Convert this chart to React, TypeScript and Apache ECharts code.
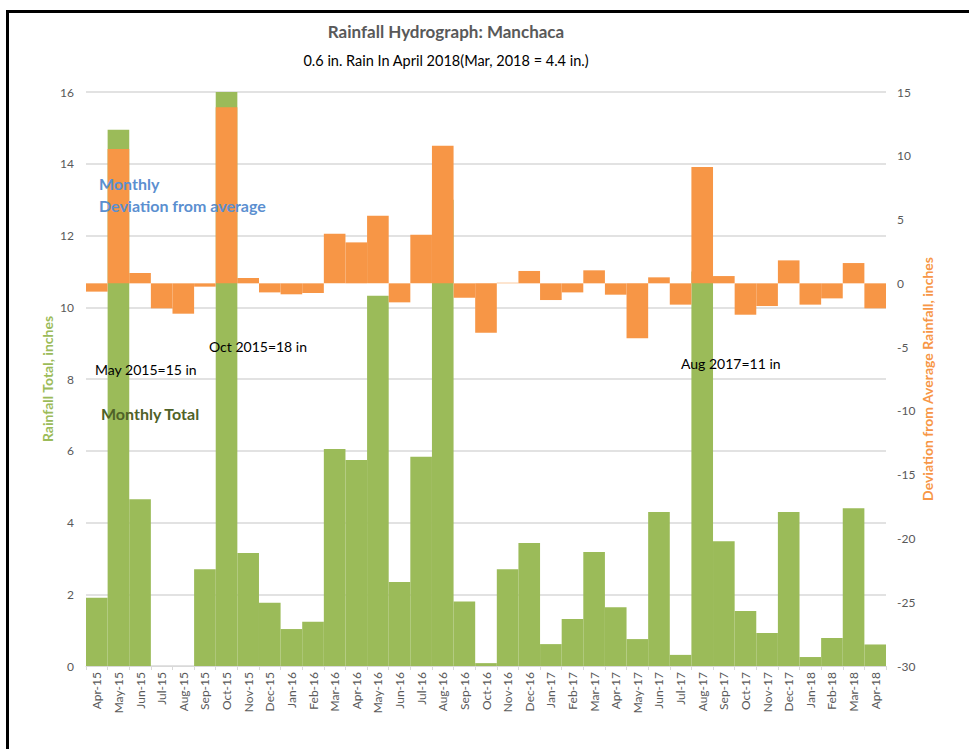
import React, { useEffect, useRef } from "react";
import * as echarts from "echarts";

const months: string[] = [
  "Apr-15", "May-15", "Jun-15", "Jul-15", "Aug-15", "Sep-15", "Oct-15", "Nov-15", "Dec-15",
  "Jan-16", "Feb-16", "Mar-16", "Apr-16", "May-16", "Jun-16", "Jul-16", "Aug-16", "Sep-16",
  "Oct-16", "Nov-16", "Dec-16", "Jan-17", "Feb-17", "Mar-17", "Apr-17", "May-17", "Jun-17",
  "Jul-17", "Aug-17", "Sep-17", "Oct-17", "Nov-17", "Dec-17", "Jan-18", "Feb-18", "Mar-18", "Apr-18",
];

const monthlyTotal: number[] = [
  1.9, 14.95, 4.65, 0, 0, 2.7, 18, 3.15, 1.76,
  1.03, 1.23, 6.05, 5.74, 10.32, 2.34, 5.83, 13, 1.8,
  0.08, 2.7, 3.43, 0.61, 1.31, 3.18, 1.64, 0.75, 4.29,
  0.31, 11, 3.48, 1.53, 0.92, 4.29, 0.25, 0.78, 4.4, 0.6,
];

const deviation: number[] = [
  -0.65, 10.53, 0.81, -1.96, -2.38, -0.26, 13.8, 0.42, -0.71,
  -0.86, -0.76, 3.89, 3.21, 5.3, -1.49, 3.81, 10.79, -1.13,
  -3.87, 0.05, 0.97, -1.31, -0.71, 1.02, -0.89, -4.31, 0.47,
  -1.67, 9.12, 0.57, -2.46, -1.78, 1.8, -1.67, -1.18, 1.59, -1.96,
];

const FONT = "Lato, 'Noto Sans', sans-serif";
const GREEN = "#9BBB59";
const ORANGE = "#F79646";

export default function App() {
  const ref = useRef<HTMLDivElement>(null);
  useEffect(() => {
    if (!ref.current) return;
    const chart = echarts.init(ref.current, undefined, { renderer: "svg" });
    const annot = (text: string, x: number, y: number, color: string, size: number, weight: string) => ({
      type: "text",
      left: x,
      top: y,
      style: { text, fill: color, font: `${weight} ${size}px ${FONT}` },
      z: 100,
    });
    chart.setOption({
      animation: false,
      backgroundColor: "#ffffff",
      title: [
        {
          text: "Rainfall Hydrograph: Manchaca",
          left: 441,
          textAlign: "center",
          top: 18,
          textStyle: { fontFamily: FONT, fontSize: 17, fontWeight: "bold", color: "#595959" },
        },
        {
          text: "0.6 in. Rain In April 2018(Mar, 2018 = 4.4 in.)",
          left: 441,
          textAlign: "center",
          top: 48,
          textStyle: { fontFamily: FONT, fontSize: 14.5, fontWeight: "normal", color: "#000000" },
        },
      ],
      grid: { left: 86, right: 83, top: 92, bottom: 83 },
      xAxis: {
        type: "category",
        data: months,
        boundaryGap: true,
        axisLine: { lineStyle: { color: "#d9d9d9", width: 1 } },
        axisTick: { show: true, length: 4, lineStyle: { color: "#d9d9d9" } },
        axisLabel: { interval: 0, rotate: 90, fontFamily: FONT, fontSize: 12, color: "#595959", margin: 6 },
      },
      yAxis: [
        {
          type: "value",
          min: 0,
          max: 16,
          interval: 2,
          position: "left",
          name: "Rainfall Total, inches",
          nameLocation: "middle",
          nameGap: 32,
          nameMoveOverlap: false,
          nameTextStyle: { fontFamily: FONT, fontSize: 14, fontWeight: "bold", color: GREEN },
          axisLine: { show: false },
          axisTick: { show: false },
          axisLabel: { fontFamily: FONT, fontSize: 12, color: "#595959", margin: 12 },
          splitLine: { show: true, lineStyle: { color: "#d9d9d9", width: 1.5 } },
        },
        {
          type: "value",
          min: -30,
          max: 15,
          interval: 5,
          position: "right",
          name: "Deviation from Average Rainfall, inches",
          nameLocation: "middle",
          nameGap: 34,
          nameMoveOverlap: false,
          nameRotate: 90,
          nameTextStyle: { fontFamily: FONT, fontSize: 14, fontWeight: "bold", color: ORANGE },
          axisLine: { show: false },
          axisTick: { show: false },
          axisLabel: { fontFamily: FONT, fontSize: 12, color: "#595959", margin: 11 },
          splitLine: { show: false },
        },
      ],
      series: [
        {
          name: "Monthly Total",
          type: "bar",
          yAxisIndex: 0,
          data: monthlyTotal,
          barWidth: "100%",
          barGap: "-100%",
          barCategoryGap: 0,
          itemStyle: { color: GREEN },
          clip: true,
          z: 2,
        },
        {
          name: "Deviation",
          type: "bar",
          yAxisIndex: 1,
          data: deviation,
          barWidth: "100%",
          barGap: "-100%",
          barCategoryGap: 0,
          itemStyle: { color: ORANGE },
          clip: true,
          z: 3,
        },
      ],
      graphic: [
        {
          type: "rect",
          shape: { x: 7.5, y: 11.5, width: 1100, height: 900 },
          style: { fill: "none", stroke: "#000000", lineWidth: 3 },
          z: 200,
        },
        annot("Monthly", 99, 175, "#5B8FD0", 16, "bold"),
        annot("Deviation from average", 99, 197, "#5B8FD0", 16, "bold"),
        annot("Monthly Total", 101, 405, "#4F6228", 16, "bold"),
        annot("May 2015=15 in", 95, 362, "#000000", 14, "normal"),
        annot("Oct 2015=18 in", 209, 339, "#000000", 14, "normal"),
        annot("Aug 2017=11 in", 681, 356, "#000000", 14, "normal"),
      ],
    });
    return () => chart.dispose();
  }, []);
  return (
    <div
      ref={ref}
      style={{ position: "fixed", left: 0, top: 0, width: 969, height: 749, background: "#fff" }}
    />
  );
}
